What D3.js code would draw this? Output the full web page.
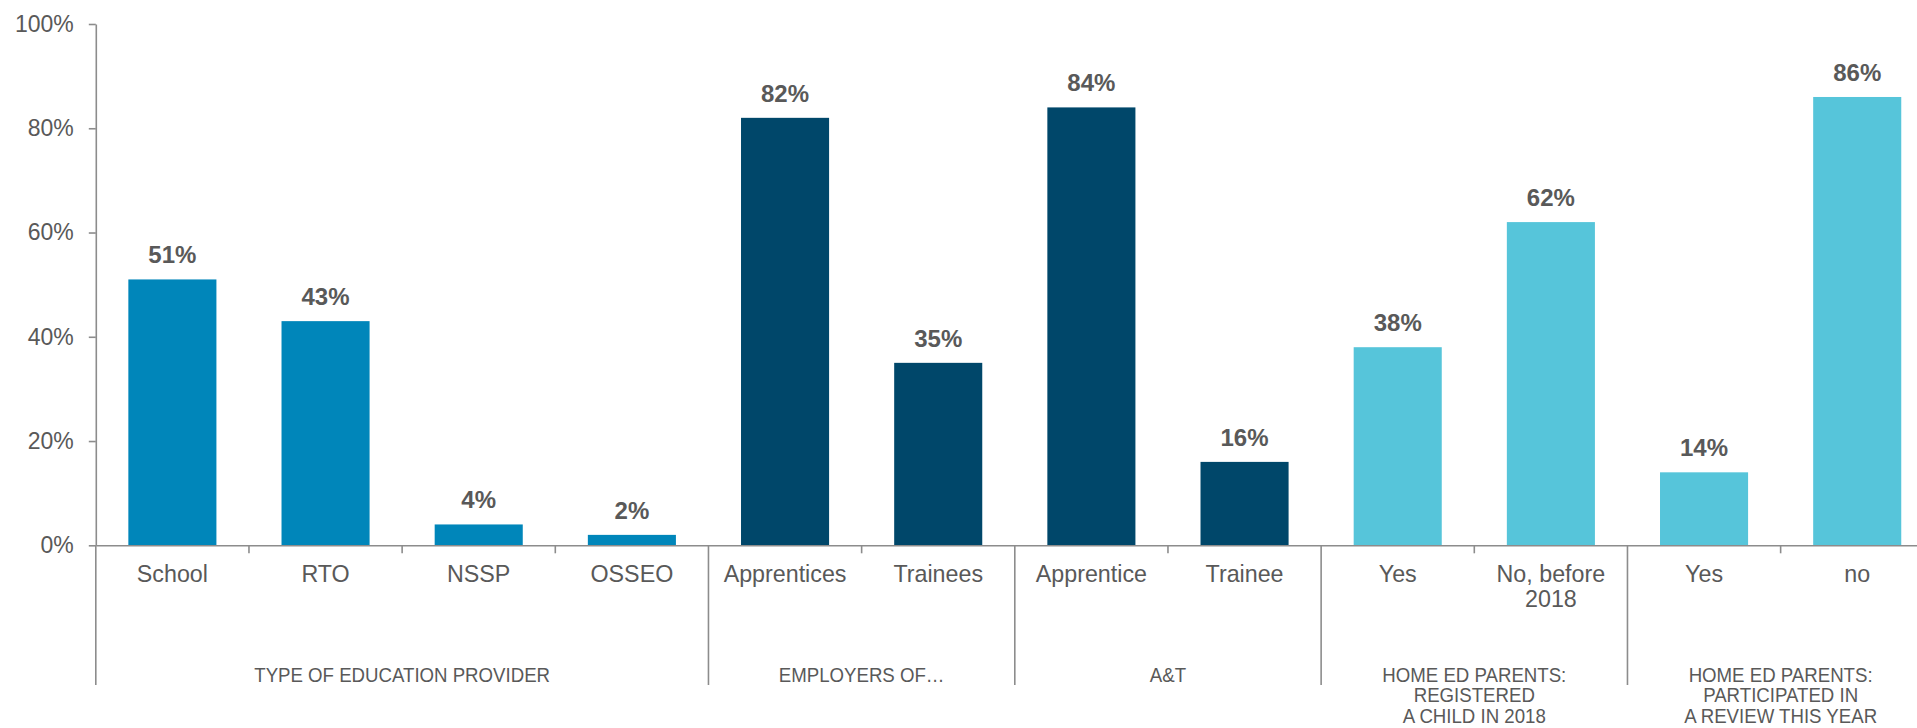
<!DOCTYPE html>
<html>
<head>
<meta charset="utf-8">
<script src="https://cdn.jsdelivr.net/npm/d3@7"></script>
<style>
  html, body { margin: 0; padding: 0; background: #ffffff; overflow: hidden; }
  svg { display: block; }
  text { font-family: "Liberation Sans", Arial, sans-serif; }
</style>
</head>
<body>
<svg id="chart" width="1917" height="728"></svg>
<script>
// Categories along the x axis (line breaks split with "\n")
const categories = ["School", "RTO", "NSSP", "OSSEO", "Apprentices", "Trainees",
  "Apprentice", "Trainee", "Yes", "No, before\n2018", "Yes", "no"];
// Share of respondents, in percent
const values = [51, 43, 4, 2, 82, 35, 84, 16, 38, 62, 14, 86];
// Group headings and how many categories each one spans
const groupNames = ["TYPE OF EDUCATION PROVIDER", "EMPLOYERS OF…", "A&T",
  "HOME ED PARENTS:\nREGISTERED\nA CHILD IN 2018",
  "HOME ED PARENTS:\nPARTICIPATED IN\nA REVIEW THIS YEAR"];
const groupSizes = [4, 2, 2, 2, 2];
const groupColors = ["#0086ba", "#00476a", "#00476a", "#56c5da", "#56c5da"];
const yTicks = [0, 20, 40, 60, 80, 100];

const textColor = "#595959";
const axisColor = "#8c8c8c";

const svg = d3.select("#chart");

const x = d3.scaleBand()
  .domain(d3.range(categories.length))
  .range([95.8, 1933.8])
  .paddingInner(0.425)
  .paddingOuter(0.2125);

const y = d3.scaleLinear().domain([0, 100]).range([545.3, 24]);

// colour of each category from its group
const catGroup = [];
groupSizes.forEach((n, g) => { for (let i = 0; i < n; i++) catGroup.push(g); });

const boundary = i => x.range()[0] + i * x.step();

// Y axis
const yAxis = svg.append("g")
  .attr("transform", `translate(${boundary(0)},0)`)
  .call(d3.axisLeft(y).tickValues(yTicks).tickFormat(d => d + "%")
    .tickSize(7).tickSizeOuter(0).tickPadding(15));
yAxis.select(".domain").attr("stroke", axisColor).attr("stroke-width", 1.6);
yAxis.selectAll(".tick line").attr("stroke", axisColor).attr("stroke-width", 1.6);
yAxis.selectAll(".tick text")
  .attr("fill", textColor)
  .style("font-size", "23px")
  .style("font-family", "\"Liberation Sans\", Arial, sans-serif");

// Bars
svg.append("g").selectAll("rect")
  .data(values)
  .join("rect")
  .attr("x", (d, i) => x(i))
  .attr("y", d => y(d))
  .attr("width", x.bandwidth())
  .attr("height", d => y(0) - y(d))
  .attr("fill", (d, i) => groupColors[catGroup[i]]);

// Value labels
svg.append("g").selectAll("text")
  .data(values)
  .join("text")
  .attr("x", (d, i) => x(i) + x.bandwidth() / 2)
  .attr("y", d => y(d) - 16)
  .attr("text-anchor", "middle")
  .attr("fill", textColor)
  .style("font-size", "24px")
  .style("font-weight", "bold")
  .text(d => d + "%");

// X axis baseline
const xAxis = svg.append("g")
  .attr("transform", `translate(0,${y(0)})`)
  .call(d3.axisBottom(x).tickSize(0).tickSizeOuter(0).tickFormat(""));
xAxis.select(".domain").attr("stroke", axisColor).attr("stroke-width", 1.6);
xAxis.selectAll(".tick").remove();

// Boundary marks: short ticks inside a group, long separators between groups
const groupStarts = [0];
groupSizes.forEach(n => groupStarts.push(groupStarts[groupStarts.length - 1] + n));
const marks = d3.range(categories.length + 1).map(i => ({
  i, long: groupStarts.includes(i)
}));
svg.append("g").selectAll("line")
  .data(marks)
  .join("line")
  .attr("x1", d => boundary(d.i))
  .attr("x2", d => boundary(d.i))
  .attr("y1", y(0))
  .attr("y2", d => d.long ? 685 : y(0) + 8)
  .attr("stroke", axisColor)
  .attr("stroke-width", 1.6);

// Category labels
const catLabels = svg.append("g").selectAll("text")
  .data(categories)
  .join("text")
  .attr("transform", (d, i) => `translate(${x(i) + x.bandwidth() / 2},582) scale(0.97,1)`)
  .attr("text-anchor", "middle")
  .attr("fill", textColor)
  .style("font-size", "24px");
catLabels.each(function (d) {
  d3.select(this).selectAll("tspan")
    .data(d.split("\n"))
    .join("tspan")
    .attr("x", 0)
    .attr("y", (t, k) => k * 25.5)
    .text(t => t);
});

// Group labels
const groupLabels = svg.append("g").selectAll("text")
  .data(groupNames)
  .join("text")
  .attr("transform", (d, g) =>
    `translate(${(boundary(groupStarts[g]) + boundary(groupStarts[g + 1])) / 2},681.5) scale(0.91,1)`)
  .attr("text-anchor", "middle")
  .attr("fill", textColor)
  .style("font-size", "20.5px");
groupLabels.each(function (d) {
  d3.select(this).selectAll("tspan")
    .data(d.split("\n"))
    .join("tspan")
    .attr("x", 0)
    .attr("y", (t, k) => k * 21)
    .text(t => t);
});
</script>
</body>
</html>
